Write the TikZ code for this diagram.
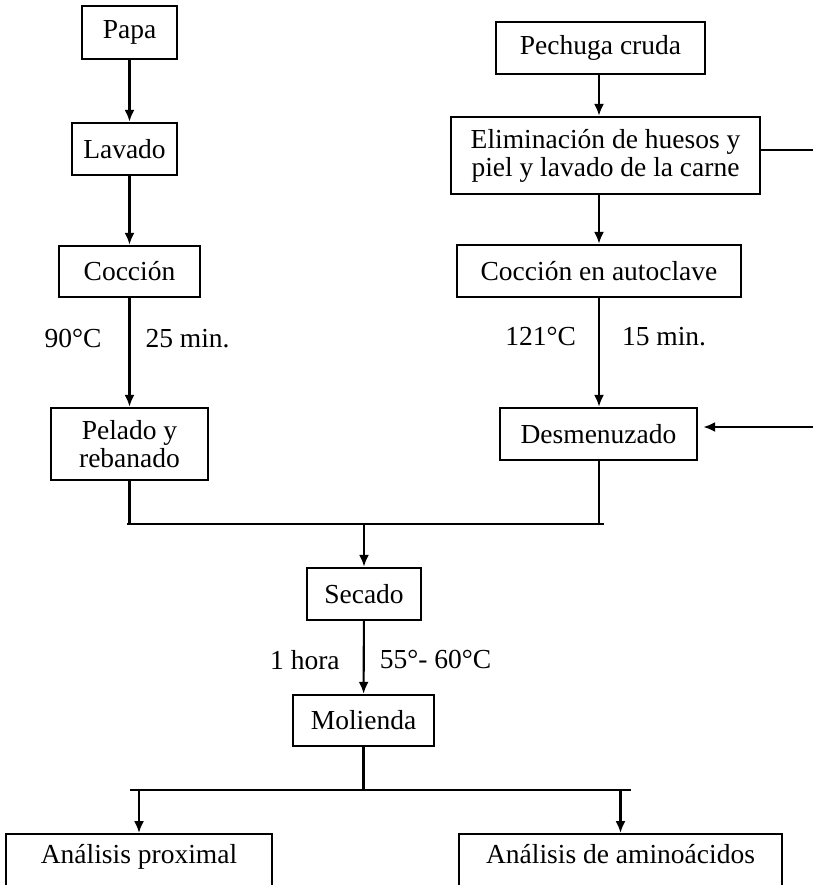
\documentclass[tikz,border=0pt]{standalone}
\usepackage{fontspec}
\setmainfont{Liberation Serif}
\usetikzlibrary{arrows.meta,positioning}

\begin{document}
\begin{tikzpicture}[x=1pt,y=-1pt,
	box/.style={draw, line width=2.4pt, align=center, inner sep=0pt, font=\fontsize{27.5}{28}\selectfont},
	lbl/.style={inner sep=0pt, font=\fontsize{27.5}{28}\selectfont},
	ln/.style={line width=2.1pt},
	arr/.style={line width=2.1pt, -{Latex[length=12pt,width=10pt]}}]
	\useasboundingbox (0,0) rectangle (813,885);
	\clip (0,0) rectangle (813,885);
	\node[box, minimum width=95pt, minimum height=53pt] (papa) at (129.5,32.5) {Papa};
	\node[box, minimum width=105pt, minimum height=52pt] (lavado) at (124.5,149) {Lavado};
	\node[box, minimum width=141pt, minimum height=51pt] (coccion) at (129.5,271.5) {Cocción};
	\node[box, minimum width=157pt, minimum height=72pt] (pelado) at (129.5,444) {Pelado y\\rebanado};
	\node[box, minimum width=209pt, minimum height=52pt] (pechuga) at (600.5,48) {Pechuga cruda};
	\node[box, minimum width=309pt, minimum height=77pt] (elimina) at (605.5,155.5) {Eliminación de huesos y\\piel y lavado de la carne};
	\node[box, minimum width=284pt, minimum height=52pt] (autoclave) at (599,271) {Cocción en autoclave};
	\node[box, minimum width=197pt, minimum height=52pt] (desmenuzado) at (598.5,434) {Desmenuzado};
	\node[box, minimum width=114pt, minimum height=52pt] (secado) at (364,594) {Secado};
	\node[box, minimum width=141pt, minimum height=51pt] (molienda) at (363.5,720.5) {Molienda};
	\node[box, anchor=north, minimum width=266pt, inner ysep=11pt, text height=18pt, text depth=60pt] (proximal) at (139,833) {Análisis proximal};
	\node[box, anchor=north, minimum width=323pt, inner ysep=11pt, text height=18pt, text depth=60pt] (amino) at (620.5,833) {Análisis de aminoácidos};
	\coordinate (feedout) at (813,150);
	\coordinate (feedin) at (813,427);
	\coordinate (mergeL) at (127,524);
	\coordinate (mergeR) at (604,524);
	\coordinate (splitL) at (130,790);
	\coordinate (splitR) at (631,790);
	\draw[arr] (papa.south) -- (papa.south |- lavado.north);
	\draw[arr] (papa.south |- lavado.south) -- (coccion.north);
	\draw[arr] (coccion) -- (pelado) node[lbl, pos=0.37, left=27pt] (t90) {90°C} node[lbl, pos=0.37, right=15pt] (t25) {25 min.};
	\draw[arr] (autoclave.south |- pechuga.south) -- (autoclave.south |- elimina.north);
	\draw[ln] (elimina.east |- feedout) -- (feedout);
	\draw[arr] (autoclave.south |- elimina.south) -- (autoclave.north);
	\draw[arr] (autoclave.south) -- (autoclave.south |- desmenuzado.north) node[lbl, pos=0.35, left=22pt] (t121) {121°C} node[lbl, pos=0.35, right=22pt] (t15) {15 min.};
	\draw[arr, shorten >=5pt] (feedin) -- (desmenuzado.east |- feedin);
	\draw[ln] (pelado.south) -- (pelado.south |- mergeL);
	\draw[ln] (autoclave.south |- desmenuzado.south) -- (autoclave.south |- mergeR);
	\draw[ln] (mergeL) -- (mergeR);
	\draw[arr] (secado.north |- mergeL) -- (secado.north);
	\draw[arr] (secado) -- (molienda) node[lbl, pos=0.53, left=23pt] (thora) {1 hora} node[lbl, pos=0.53, right=15pt] (t55) {55°- 60°C};
	\draw[ln] (molienda.south) -- (molienda.south |- splitL);
	\draw[ln] (splitL) -- (splitR);
	\draw[arr] (proximal.north |- splitL) -- (proximal.north);
	\draw[arr] (amino.north |- splitL) -- (amino.north);
\end{tikzpicture}
\end{document}
